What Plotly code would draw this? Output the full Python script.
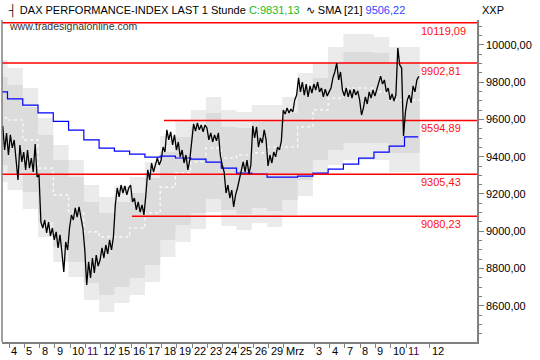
import plotly.graph_objects as go

# ---------------- data ----------------
BARS_PER_DAY = 8
DAY_SHIFT = -0.1          # day block starts slightly before its tick
START_DAY = -1            # first (partial) day shown
START_BAR = 4             # first visible bar of that day

# x-axis day labels and their day positions
day_labels = ["4", "5", "8", "9", "10", "11", "12", "15", "16", "17", "18", "19",
              "22", "23", "24", "25", "26", "29", "Mrz", "3", "4", "7", "8", "9",
              "10", "11", "12"]
day_label_pos = [0, 1, 2, 3, 4, 5, 6, 7, 8, 9, 10, 11, 12, 13, 14, 15, 16, 17, 18,
                 20, 21, 22, 23, 24, 25, 26, 27.55]
purple_labels = ["11"]

# hourly price (8 bars per day), starting at day -1 bar 4
price = [
    9517, 9565, 9436, 9527,                                  # day -1
    9409, 9517, 9447, 9490, 9382, 9275, 9463, 9372,          # 4
    9425, 9329, 9436, 9339, 9393, 9318, 9468, 9291,          # 5
    9302, 9049, 9017, 9060, 8991, 9049, 8975, 9017,          # 8
    8953, 8996, 8910, 8980, 8888, 8781, 8942, 8899,          # 9
    9017, 9087, 9060, 9125, 9076, 9130, 9071, 9017,          # 10
    8899, 8711, 8835, 8749, 8856, 8776, 8872, 8813,          # 11
    8845, 8910, 8856, 8926, 8878, 8953, 8899, 8969,          # 12
    9141, 9232, 9184, 9248, 9205, 9243, 9195, 9232,          # 15
    9248, 9157, 9178, 9114, 9157, 9103, 9141, 9087,          # 16
    9195, 9329, 9275, 9366, 9318, 9356, 9393, 9356,          # 17
    9382, 9452, 9425, 9544, 9490, 9533, 9463, 9517,          # 18
    9436, 9479, 9399, 9436, 9366, 9409, 9329, 9382,          # 19
    9490, 9576, 9538, 9581, 9544, 9570, 9533, 9570,          # 22
    9554, 9490, 9528, 9479, 9517, 9485, 9528, 9409,          # 23
    9356, 9318, 9205, 9248, 9178, 9221, 9130, 9195,          # 24
    9232, 9275, 9313, 9372, 9318, 9382, 9307, 9356,          # 25
    9565, 9501, 9560, 9452, 9501, 9474, 9544, 9490,          # 26
    9350, 9409, 9366, 9425, 9399, 9452, 9436, 9485,          # 29
    9651, 9629, 9662, 9635, 9656, 9640, 9705, 9731,          # Mrz 1
    9823, 9748, 9801, 9731, 9790, 9721, 9780, 9742,          # 2
    9790, 9758, 9801, 9748, 9769, 9721, 9763, 9726,          # 3
    9748, 9769, 9823, 9855, 9903, 9812, 9855, 9758,          # 4
    9726, 9769, 9721, 9758, 9715, 9763, 9731, 9753,          # 7
    9705, 9624, 9662, 9721, 9683, 9748, 9715, 9758,          # 8
    9726, 9763, 9785, 9833, 9790, 9812, 9748, 9769,          # 9
    9705, 9737, 9699, 9731, 9984, 9893, 9876, 9511,          # 10
    9640, 9705, 9731, 9689, 9780, 9748, 9812, 9831,          # 11
]

# daily values (day -1 .. 26)
band_days = list(range(-1, 27))
sma21 = [9748, 9710, 9677, 9635, 9590, 9543, 9490, 9446, 9430, 9414, 9398, 9403, 9393,
         9387, 9371, 9339, 9312, 9306, 9290, 9290, 9296, 9312, 9333, 9360, 9392, 9425,
         9457, 9506]
outer_top = [9919, 9876, 9769, 9608, 9463, 9382, 9248, 9184, 9243, 9291, 9372, 9511,
             9592, 9651, 9721, 9651, 9640, 9678, 9678, 9721, 9850, 9903, 9989, 10059,
             10059, 10043, 9989, 9989]
inner_top = [9828, 9785, 9667, 9517, 9382, 9291, 9157, 9098, 9157, 9205, 9286, 9425,
             9506, 9560, 9635, 9560, 9554, 9587, 9592, 9635, 9758, 9823, 9903, 9962,
             9962, 9957, 9903, 9903]
inner_bot = [9356, 9313, 9211, 9049, 8915, 8835, 8722, 8658, 8700, 8749, 8819, 8953,
             9033, 9098, 9173, 9114, 9092, 9125, 9109, 9168, 9275, 9382, 9436, 9474,
             9474, 9474, 9420, 9420]
outer_bot = [9264, 9221, 9119, 8969, 8835, 8754, 8631, 8566, 8615, 8658, 8727, 8862,
             8942, 9012, 9103, 9028, 9007, 9044, 9023, 9087, 9189, 9302, 9356, 9382,
             9382, 9382, 9318, 9318]
mid_line = [9608, 9597, 9490, 9339, 9195, 9103, 8996, 8969, 8969, 9017, 9098, 9237,
            9313, 9372, 9447, 9393, 9409, 9420, 9452, 9452, 9560, 9651, 9715, 9769,
            9769, 9748, 9705, 9705]

# horizontal levels and the day where each starts (None = whole chart)
levels = [10119.09, 9902.81, 9594.89, 9305.43, 9080.23]
level_start = [None, None, 10.15, None, 8.05]

last_close = 9831.13
sma_last = 9506.22

X_RANGE = [-0.46, 30.65]
Y_RANGE = [8405, 10134]
y_ticks = [8600, 8800, 9000, 9200, 9400, 9600, 9800, 10000]

# ---------------- helpers ----------------
def de(v):
    return f"{v:.2f}".replace(".", ",")

FONT = "Liberation Sans, Arial, sans-serif"

edges = [d + DAY_SHIFT for d in band_days] + [band_days[-1] + 1 + DAY_SHIFT]
def step(vals):
    return list(vals) + [vals[-1]]

price_x = [START_DAY + DAY_SHIFT + (START_BAR + k + 0.5) / BARS_PER_DAY
           for k in range(len(price))]

fig = go.Figure()

# outer (light) band
fig.add_trace(go.Scatter(x=edges, y=step(outer_top), mode="lines", line_shape="hv",
                         line=dict(width=0, color="rgba(0,0,0,0)"), hoverinfo="skip"))
fig.add_trace(go.Scatter(x=edges, y=step(outer_bot), mode="lines", line_shape="hv",
                         line=dict(width=0, color="rgba(0,0,0,0)"), fill="tonexty",
                         fillcolor="#ebebeb", hoverinfo="skip"))
# inner (darker) band
fig.add_trace(go.Scatter(x=edges, y=step(inner_top), mode="lines", line_shape="hv",
                         line=dict(width=0, color="rgba(0,0,0,0)"), hoverinfo="skip"))
fig.add_trace(go.Scatter(x=edges, y=step(inner_bot), mode="lines", line_shape="hv",
                         line=dict(width=0, color="rgba(0,0,0,0)"), fill="tonexty",
                         fillcolor="#dcdcdc", hoverinfo="skip"))
# dotted middle line
fig.add_trace(go.Scatter(x=edges, y=step(mid_line), mode="lines", line_shape="hv",
                         line=dict(width=1.2, color="white", dash="dot"), hoverinfo="skip"))
# SMA 21
fig.add_trace(go.Scatter(x=edges[:-1] + [edges[-1] - 0.1], y=step(sma21), mode="lines",
                         line_shape="hv", line=dict(width=1.2, color="#0000ff"),
                         hoverinfo="skip"))
# red levels
for lv, st in zip(levels, level_start):
    x0 = X_RANGE[0] if st is None else st
    fig.add_trace(go.Scatter(x=[x0, X_RANGE[1]], y=[lv, lv], mode="lines",
                             line=dict(width=1.5, color="#ff0000"), hoverinfo="skip"))
    fig.add_annotation(x=(419 - 2) / 475, xref="paper", y=lv, yref="y",
                       text=de(lv), showarrow=False, xanchor="left", yanchor="top",
                       font=dict(family=FONT, size=11, color="#ff1010"))
# price
fig.add_trace(go.Scatter(x=price_x, y=price, mode="lines",
                         line=dict(width=1.3, color="black"), hoverinfo="skip"))

# x labels
for lab, pos in zip(day_labels, day_label_pos):
    fig.add_annotation(x=pos, xref="x", y=0, yref="paper", text=lab, showarrow=False,
                       xanchor="left", yanchor="top", yshift=-1, xshift=0,
                       font=dict(family=FONT, size=11,
                                 color="#4a0050" if lab in purple_labels else "black"))

# header texts
title = ("┤ DAX PERFORMANCE-INDEX LAST 1 Stunde "
         f"<span style='color:#22bb22'>C:{de(last_close)}</span>  "
         f"∿ SMA [21] <span style='color:#3344ff'>{de(sma_last)}</span>")
fig.add_annotation(x=(6 - 2) / 475, xref="paper", y=1 + 10 / 322, yref="paper",
                   text=title, showarrow=False, xanchor="left", yanchor="middle",
                   font=dict(family=FONT, size=11, color="black"))
fig.add_annotation(x=(7 - 2) / 475, xref="paper", y=1 - 6 / 322, yref="paper",
                   text="www.tradesignalonline.com", showarrow=False, xanchor="left",
                   yanchor="middle", font=dict(family=FONT, size=10.5, color="#333333"))
fig.add_annotation(x=1 + 3 / 475, xref="paper", y=1 + 10 / 322, yref="paper",
                   text="XXP", showarrow=False, xanchor="left", yanchor="middle",
                   font=dict(family=FONT, size=11, color="black"))

# left frame line
fig.add_shape(type="line", xref="paper", yref="paper", x0=0, x1=0, y0=0, y1=1,
              line=dict(color="#808080", width=1.5))

fig.update_layout(
    width=540, height=360,
    margin=dict(l=2, r=63, t=20, b=18, autoexpand=False),
    paper_bgcolor="white", plot_bgcolor="white",
    showlegend=False, hovermode=False,
    separators=",.",
    xaxis=dict(range=X_RANGE, showgrid=False, zeroline=False, showline=True,
               linecolor="#808080", linewidth=1.5, tickvals=day_label_pos,
               ticks="outside", ticklen=4, tickcolor="#808080",
               showticklabels=False),
    yaxis=dict(range=Y_RANGE, side="right", showgrid=False, zeroline=False,
               showline=True, linecolor="#808080", linewidth=1.5,
               tickvals=y_ticks, ticktext=[de(v) for v in y_ticks],
               ticks="outside", ticklen=5, tickcolor="#808080",
               tickfont=dict(family=FONT, size=11, color="black"),
               minor=dict(dtick=50, ticks="outside", ticklen=3, tickcolor="#808080")),
)

fig.write_html("out.html", config={"displayModeBar": False},
               post_script="document.body.style.margin='0px';"
                           "document.body.style.overflow='hidden';")
